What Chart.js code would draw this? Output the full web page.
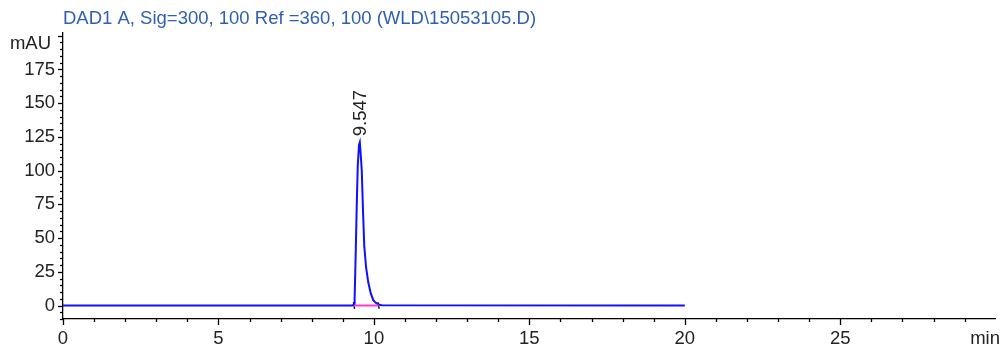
<!DOCTYPE html>
<html>
<head>
<meta charset="utf-8">
<script src="https://cdn.jsdelivr.net/npm/chart.js@4.4.1/dist/chart.umd.min.js"></script>
<style>
  html, body { margin: 0; padding: 0; background: #fff; overflow: hidden; }
  canvas { display: block; }
</style>
</head>
<body>
<canvas id="c" width="1001" height="348"></canvas>
<script>
// ---- data ----
const titleText = "DAD1 A, Sig=300, 100 Ref =360, 100 (WLD\\15053105.D)";
const yUnit = "mAU";
const xUnit = "min";
const peakLabel = "9.547";
const peakTime = 9.547;
const peakHeight = 121;

const timeMin = [0, 9.30, 9.36, 9.38, 9.42, 9.45, 9.48, 9.52, 9.547, 9.57, 9.61, 9.65, 9.69, 9.75, 9.82, 9.90, 9.98, 10.06, 10.15, 10.25, 20.0];
const signal  = [0, 0,    0.5,  5,    44,   76,   103,  119,  121,   114,  100,  70,   44,   28,   17,   9,    4,    2,     0.7,   0.2,   0];

const baselineTime  = [9.36, 10.15];
const baselineValue = [0, 0];

const xTickLabels = [0, 5, 10, 15, 20, 25];
const yTickLabels = [0, 25, 50, 75, 100, 125, 150, 175];

const X_MIN = 0, X_MAX = 30, Y_MIN = -10, Y_MAX = 202;

const FONT = "'Liberation Sans', Arial, Helvetica, sans-serif";
const FS = 18.5;

const minorTicksPlugin = {
  id: 'minorTicks',
  afterDraw(chart) {
    const ctx = chart.ctx;
    const xs = chart.scales.x, ys = chart.scales.y;
    const left = xs.left, bottom = ys.bottom;
    ctx.save();
    ctx.strokeStyle = '#000';
    ctx.lineWidth = 1.3;
    for (let v = 0; v <= 29; v++) {
      const px = Math.round(xs.getPixelForValue(v)) + 0.5;
      const len = (v % 5 === 0) ? 6 : 3;
      ctx.beginPath(); ctx.moveTo(px, bottom); ctx.lineTo(px, bottom + len); ctx.stroke();
    }
    for (let v = -10; v <= 200; v += 5) {
      const py = Math.round(ys.getPixelForValue(v)) + 0.5;
      const len = (v % 25 === 0) ? 5 : 3;
      ctx.beginPath(); ctx.moveTo(left, py); ctx.lineTo(left - len, py); ctx.stroke();
    }
    ctx.fillStyle = '#2f5fb0';
    ctx.font = FS + "px " + FONT;
    ctx.textAlign = 'left';
    ctx.textBaseline = 'middle';
    ctx.fillText(titleText, 63, 19);
    ctx.fillStyle = '#222';
    ctx.textAlign = 'right';
    ctx.fillText(yUnit, 51, 44);
    ctx.fillText(xUnit, 1000, 339);
    const lx = xs.getPixelForValue(peakTime);
    const ly = ys.getPixelForValue(peakHeight);
    ctx.translate(lx + 1, ly - 6);
    ctx.rotate(-Math.PI / 2);
    ctx.textAlign = 'left';
    ctx.textBaseline = 'middle';
    ctx.fillText(peakLabel, 0, 0);
    ctx.restore();
  }
};

new Chart(document.getElementById('c'), {
  type: 'line',
  data: {
    datasets: [
      {
        data: baselineTime.map((t, i) => ({x: t, y: baselineValue[i]})),
        borderColor: '#ff3cc8',
        borderWidth: 2,
        pointRadius: 0,
        tension: 0
      },
      {
        data: timeMin.map((t, i) => ({x: t, y: signal[i]})),
        borderColor: '#1010ff',
        borderWidth: 2,
        pointRadius: 0,
        tension: 0
      },
      {
        type: 'scatter',
        data: baselineTime.map((t, i) => ({x: t, y: baselineValue[i]})),
        pointStyle: 'line',
        rotation: 80,
        radius: 3.5,
        borderColor: '#000',
        borderWidth: 1.3,
        showLine: false
      }
    ]
  },
  options: {
    responsive: false,
    animation: false,
    devicePixelRatio: 1,
    layout: { padding: { top: 33, right: 1, left: 1, bottom: 0 } },
    plugins: { legend: { display: false }, tooltip: { enabled: false }, title: { display: false } },
    scales: {
      x: {
        type: 'linear',
        min: X_MIN, max: X_MAX,
        afterFit(s) { s.height = 29; },
        afterBuildTicks(s) { s.ticks = xTickLabels.map(v => ({value: v})); },
        grid: { display: false, drawTicks: false },
        border: { display: true, color: '#000', width: 1.3 },
        ticks: { font: { family: FONT, size: FS }, color: '#222', padding: 9, maxRotation: 0, autoSkip: false }
      },
      y: {
        type: 'linear',
        min: Y_MIN, max: Y_MAX,
        afterFit(s) { s.width = 62; },
        afterBuildTicks(s) { s.ticks = yTickLabels.map(v => ({value: v})); },
        grid: { display: false, drawTicks: false },
        border: { display: true, color: '#000', width: 1.3 },
        ticks: { font: { family: FONT, size: FS }, color: '#222', padding: 8, autoSkip: false }
      }
    }
  },
  plugins: [minorTicksPlugin]
});
</script>
</body>
</html>
